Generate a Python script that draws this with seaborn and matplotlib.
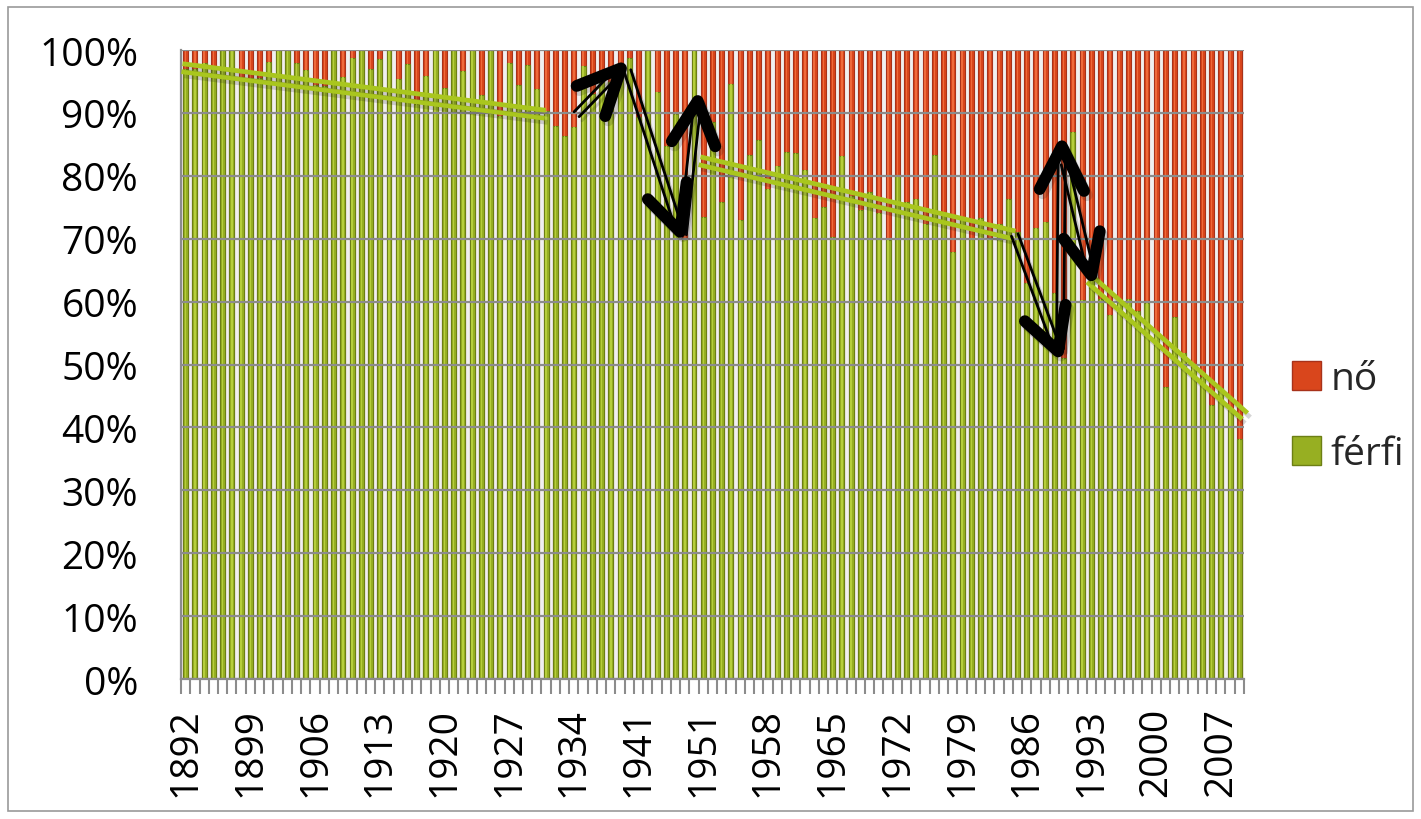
import numpy as np
import pandas as pd
import matplotlib
matplotlib.use("Agg")
import matplotlib.pyplot as plt
import matplotlib.patheffects as pe
import matplotlib.transforms as mtrans
from matplotlib.patches import Patch, Rectangle
import seaborn as sns

# years on the category axis (1944-1946 are missing in the source)
years = list(range(1892, 1944)) + list(range(1947, 2010))

# share of men (férfi), percent; the rest is women (nő)
ferfi = [97, 97, 98, 97.4, 100, 100, 95.8, 95.5, 95.5, 98.1,
         100, 100, 98, 96.9, 94.4, 94.3, 100, 95.8, 98.7, 100,
         97, 98.6, 100, 95.4, 97.8, 91.4, 95.9, 100, 93.9, 100,
         96.6, 100, 92.8, 100, 89.5, 98, 94.5, 97.6, 93.8, 90.3,
         87.9, 86.4, 87.7, 97.5, 93, 96, 95, 98, 98.8, 89.3,
         100, 93.3, 84.8, 89.8, 70.0, 100, 73.4, 88.5, 75.8, 94.6,
         73.0, 83.3, 85.7, 77.9, 81.5, 83.8, 83.6, 81.0, 73.3, 75.1,
         70.3, 83.1, 76.8, 74.5, 77.5, 74.1, 69.8, 80.1, 75.9, 76.3,
         72.3, 83.3, 74.2, 67.9, 73.1, 69.9, 73.3, 70.0, 72.3, 76.3,
         71, 63, 71.7, 72.6, 61.4, 51, 86.9, 60.3, 64, 60.5,
         57.8, 59.9, 60.5, 58.5, 59.8, 55, 46.4, 57.6, 51.9, 50,
         48, 43.5, 46.2, 42.8, 38.2]
total = [100] * len(ferfi)

tick_labels = ["1892", "1899", "1906", "1913", "1920", "1927", "1934", "1941",
               "1951", "1958", "1965", "1972", "1979", "1986", "1993", "2000", "2007"]

# hand-drawn trend lines: (x0, y0, x1, y1) in category index / percent
trends = [(-0.4, 97.2, 38.9, 89.8),
          (55.6, 82.4, 89.7, 70.6),
          (97.8, 63.6, 114.6, 41.8)]

# hand-drawn arrows: tail, tip, head arm 1, head arm 2
arrows = [((42.3, 89.8), (47.1, 97.1), (42.3, 94.3), (45.4, 89.5)),
          ((47.8, 96.7), (53.5, 71.1), (50.0, 76.3), (54.2, 79.0)),
          ((53.8, 70.7), (55.4, 91.9), (52.6, 85.5), (57.3, 84.7)),
          ((89.7, 70.6), (94.4, 52.1), (90.8, 56.9), (95.2, 59.5)),
          ((94.6, 52.5), (94.8, 84.7), (92.4, 77.9), (97.2, 77.6)),
          ((95.1, 81.9), (98.0, 64.2), (95.0, 70.0), (98.9, 71.2))]

red, red_dark, red_light = "#d9461c", "#a8321a", "#ee6a3c"
green, green_dark, green_light = "#97af22", "#6c7f14", "#b6ce3c"
trend_col = "#a9c61e"
fs = 28

df = pd.DataFrame({"ev": [str(y) for y in years], "ferfi": ferfi, "total": total})

sns.set_theme(style="white")
plt.rcParams["font.family"] = ["Open Sans", "DejaVu Sans"]

fig = plt.figure(figsize=(14.21, 8.2), dpi=100)
ax = fig.add_axes([0.1274, 0.1707, 0.748, 0.767])
ax.set_facecolor("#f0f0f0")

order = list(df["ev"])
sns.barplot(data=df, x="ev", y="total", order=order, color=red, saturation=1,
            width=0.54, edgecolor=red_dark, linewidth=0.8, ax=ax, zorder=2)
sns.barplot(data=df, x="ev", y="total", order=order, color=red_light, saturation=1,
            width=0.16, linewidth=0, ax=ax, zorder=2.1)
sns.barplot(data=df, x="ev", y="ferfi", order=order, color=green, saturation=1,
            width=0.54, edgecolor=green_dark, linewidth=0.8, ax=ax, zorder=2.2)
sns.barplot(data=df, x="ev", y="ferfi", order=order, color=green_light, saturation=1,
            width=0.16, linewidth=0, ax=ax, zorder=2.3)

n = len(years)
ax.set_xlim(-0.5, n - 0.5)
ax.set_ylim(0, 100)
ax.set_xlabel("")
ax.set_ylabel("")

ax.set_yticks(range(0, 101, 10))
ax.set_yticklabels([f"{v}%" for v in range(0, 101, 10)], fontsize=fs, color="black")
ax.yaxis.grid(True, color="#8c8c8c", lw=1.6, zorder=3)
ax.xaxis.grid(False)
ax.set_axisbelow(False)
ax.tick_params(axis="y", length=0, pad=31)

ax.set_xticks(range(0, n, 7))
ax.set_xticklabels(tick_labels, rotation=90, fontsize=fs, color="black")
ax.set_xticks(np.arange(-0.5, n, 1), minor=True)
ax.tick_params(axis="x", which="major", length=0, pad=20)
ax.tick_params(axis="x", which="minor", length=11, width=1.5, color="#8c8c8c",
               direction="out", bottom=True)

for side in ("top", "right"):
    ax.spines[side].set_visible(False)
for side in ("left", "bottom"):
    ax.spines[side].set_color("#8c8c8c")
    ax.spines[side].set_linewidth(1.6)


def double_line(x, y, gap_px, **kw):
    p = ax.transData.transform(np.column_stack([x, y]))
    d = p[-1] - p[0]
    nv = np.array([-d[1], d[0]]) / np.hypot(*d)
    for s in (-1, 1):
        off = mtrans.offset_copy(ax.transData, fig=fig, x=s * nv[0] * gap_px / 2,
                                 y=s * nv[1] * gap_px / 2, units="dots")
        ax.plot(x, y, transform=off, clip_on=False, **kw)


shadow = [pe.SimpleLineShadow(offset=(2, -3), shadow_color="k", alpha=0.18), pe.Normal()]

for x0, y0, x1, y1 in trends:
    double_line([x0, x1], [y0, y1], 8, color=trend_col, lw=3.4, zorder=5,
                solid_capstyle="butt", path_effects=shadow)

for tail, tip, a1, a2 in arrows:
    double_line([tail[0], tip[0]], [tail[1], tip[1]], 7, color="black", lw=2,
                zorder=6, path_effects=shadow)
    ax.plot([a1[0], tip[0], a2[0]], [a1[1], tip[1], a2[1]], color="black", lw=8.5,
            solid_capstyle="round", solid_joinstyle="round", zorder=7,
            clip_on=False, path_effects=shadow)

handles = [Patch(facecolor=red, edgecolor=red_dark, label="nő"),
           Patch(facecolor=green, edgecolor=green_dark, label="férfi")]
fig.legend(handles=handles, loc="center left", bbox_to_anchor=(0.909, 0.491),
           frameon=False, fontsize=fs, handlelength=0.75, handleheight=0.75,
           handletextpad=0.25, labelspacing=0.95, borderaxespad=0, borderpad=0)

fig.add_artist(Rectangle((0.0056, 0.0098), 0.989, 0.980, transform=fig.transFigure,
                         fill=False, edgecolor="#9a9a9a", lw=1.2))

fig.savefig("out.png", dpi=100)
